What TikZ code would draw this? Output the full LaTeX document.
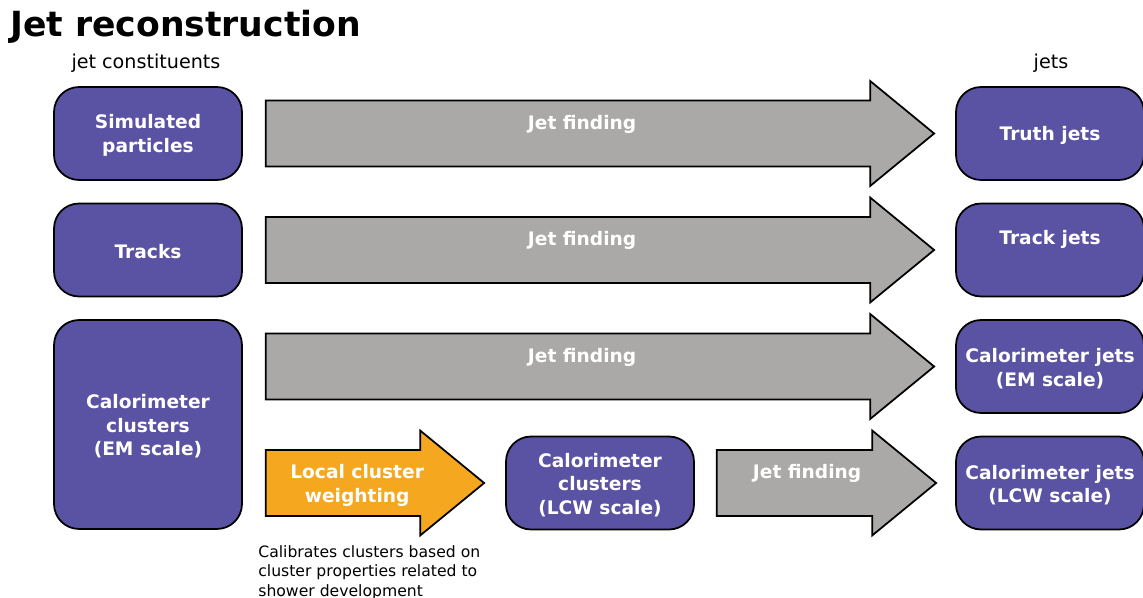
\documentclass[tikz,border=0pt]{standalone}
\usepackage{fontspec}
\setmainfont{DejaVu Sans}
\usepackage{xcolor}
\usetikzlibrary{shapes,arrows,positioning,calc}

\definecolor{boxpurple}{HTML}{5A52A2}
\definecolor{arrowgray}{HTML}{AAA9A7}
\definecolor{lcworange}{HTML}{F5A81F}

\tikzset{
  objbox/.style={draw=black, line width=1pt, fill=boxpurple, rounded corners=0.5cm,
    minimum width=3.76cm, minimum height=1.86cm, inner sep=0pt},
  boxtext/.style={text=white, align=center, inner sep=0pt, yshift=-1.1pt,
    font=\bfseries\fontsize{10.6}{13.4}\selectfont},
  fatarrow/.style={draw=black, line width=1pt, fill=#1},
  smalltext/.style={inner sep=0pt, font=\fontsize{10.9}{13}\selectfont}
}

% fat block arrow: style colour, start (left middle), tip
\newcommand{\blockarrow}[3]{%
  \draw[fatarrow=#1] ($#2+(0,-33)$) -- ($#3+(-64,-33)$) -- ($#3+(-64,-52.5)$) -- #3
    -- ($#3+(-64,52.5)$) -- ($#3+(-64,33)$) -- ($#2+(0,33)$) -- cycle;}

\begin{document}
\begin{tikzpicture}[x=0.02cm,y=-0.02cm]
\useasboundingbox (0,0) rectangle (1143,598);

% Title and column heads
\node[anchor=base west, inner sep=0pt, font=\bfseries\fontsize{19.7}{24}\selectfont] (title) at (10,37) {Jet reconstruction};
\node[smalltext, anchor=base] (constlabel) at (146,69) {jet constituents};
\node[smalltext, anchor=base] (jetslabel) at (1051,69) {jets};

% Jet constituents
\node[objbox] (sim) at (148,133.5) {};
\node[boxtext] at (sim) {Simulated\\particles};
\node[objbox] (tracks) at (148,250) {};
\node[boxtext] at (tracks) {Tracks};
\node[objbox, minimum height=4.18cm] (calo) at (148,424.5) {};
\node[boxtext] at (calo) {Calorimeter\\clusters\\(EM scale)};
\node[objbox] (lcwclus) at (600,483) {};
\node[boxtext] at (lcwclus) {Calorimeter\\clusters\\(LCW scale)};

% Jets
\node[objbox] (truth) at (1050,133.5) {};
\node[boxtext] at (truth) {Truth jets};
\node[objbox] (trackjets) at (1050,250) {};
\node[boxtext] at ($(trackjets)+(0,-12)$) {Track jets};
\node[objbox] (emjets) at (1050,366.5) {};
\node[boxtext] at (emjets) {Calorimeter jets\\(EM scale)};
\node[objbox] (lcwjets) at (1050,483) {};
\node[boxtext] at (lcwjets) {Calorimeter jets\\(LCW scale)};

% Arrow ends
\coordinate (s1) at ($(sim.east)+(23,0)$);
\coordinate (t1) at ($(truth.west)+(-21,0)$);
\coordinate (s2) at ($(tracks.east)+(23,0)$);
\coordinate (t2) at ($(trackjets.west)+(-21,0)$);
\coordinate (s3) at ($(calo.east |- emjets.west)+(23,0)$);
\coordinate (t3) at ($(emjets.west)+(-21,0)$);
\coordinate (s4) at ($(calo.east |- lcwclus.west)+(23,0)$);
\coordinate (t4) at ($(lcwclus.west)+(-21,0)$);
\coordinate (s5) at ($(lcwclus.east)+(22,0)$);
\coordinate (t5) at ($(lcwjets.west)+(-19,0)$);

% Jet finding arrows
\foreach \i in {1,2,3} {
  \blockarrow{arrowgray}{(s\i)}{(t\i)}
  \node[boxtext] (find\i) at ($(t\i)+(-352,-11)$) {Jet finding};
}
\blockarrow{arrowgray}{(s5)}{(t5)}
\node[boxtext] (find4) at ($(t5)+(-129,-12)$) {Jet finding};

% Local cluster weighting
\blockarrow{lcworange}{(s4)}{(t4)}
\node[boxtext] (lcw) at ($(t4)+(-127,0.5)$) {Local cluster\\weighting};
\node[anchor=north west, inner sep=0pt, align=left, font=\fontsize{8.9}{11.2}\selectfont] (lcwnote) at (258,545)
  {Calibrates clusters based on\\cluster properties related to\\shower development};
\end{tikzpicture}
\end{document}
